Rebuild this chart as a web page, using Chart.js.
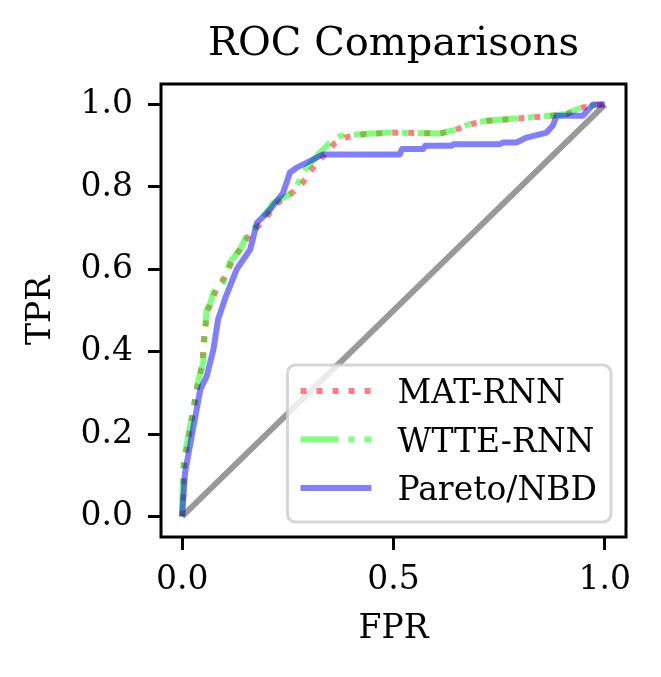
<!DOCTYPE html>
<html>
<head>
<meta charset="utf-8">
<script src="https://cdn.jsdelivr.net/npm/chart.js@4.4.1/dist/chart.umd.min.js"></script>
<style>
  body { margin: 0; background: #fff; }
  #wrap { width: 661px; height: 677px; }
</style>
</head>
<body>
<div id="wrap"><canvas id="roc"></canvas></div>
<script>
// ROC points (FPR, TPR)
const matFpr = [0, 0.002, 0.005, 0.02, 0.037, 0.048, 0.052, 0.06, 0.07, 0.08, 0.1, 0.118, 0.14, 0.16, 0.19, 0.225, 0.265, 0.285, 0.3, 0.33, 0.36, 0.385, 0.43, 0.5, 0.61, 0.645, 0.685, 0.725, 0.795, 0.875, 0.91, 0.948, 0.99, 1];
const matTpr = [0, 0.04, 0.13, 0.22, 0.32, 0.37, 0.44, 0.5, 0.52, 0.55, 0.58, 0.62, 0.655, 0.685, 0.715, 0.76, 0.79, 0.81, 0.835, 0.87, 0.905, 0.92, 0.928, 0.932, 0.93, 0.938, 0.953, 0.961, 0.966, 0.973, 0.977, 0.993, 1.0, 1];

const wtteFpr = [0, 0, 0.003, 0.019, 0.039, 0.05, 0.054, 0.058, 0.066, 0.074, 0.097, 0.113, 0.137, 0.153, 0.184, 0.216, 0.263, 0.279, 0.295, 0.326, 0.35, 0.374, 0.421, 0.492, 0.61, 0.641, 0.681, 0.72, 0.791, 0.87, 0.909, 0.945, 0.988, 1];
const wtteTpr = [0, 0.025, 0.131, 0.219, 0.333, 0.373, 0.446, 0.502, 0.515, 0.544, 0.568, 0.617, 0.648, 0.682, 0.713, 0.762, 0.786, 0.818, 0.847, 0.883, 0.908, 0.924, 0.928, 0.932, 0.93, 0.937, 0.953, 0.961, 0.966, 0.973, 0.977, 0.993, 1.0, 1];

const paretoFpr = [0, 0.007, 0.027, 0.043, 0.058, 0.074, 0.085, 0.102, 0.129, 0.161, 0.177, 0.208, 0.239, 0.255, 0.271, 0.295, 0.333, 0.515, 0.52, 0.57, 0.575, 0.637, 0.642, 0.752, 0.76, 0.791, 0.815, 0.862, 0.877, 0.886, 0.948, 0.972, 1];
const paretoTpr = [0, 0.107, 0.219, 0.308, 0.34, 0.405, 0.478, 0.53, 0.6, 0.648, 0.713, 0.745, 0.786, 0.835, 0.847, 0.859, 0.879, 0.879, 0.892, 0.892, 0.9, 0.9, 0.904, 0.904, 0.908, 0.908, 0.92, 0.932, 0.949, 0.973, 0.973, 1.0, 1];

const chanceFpr = [0, 1];
const chanceTpr = [0, 1];

const xTicks = [0, 0.5, 1.0];
const yTicks = [0, 0.2, 0.4, 0.6, 0.8, 1.0];

const SERIF = "'DejaVu Serif', serif";
const FS = 33;

function toPoints(xs, ys) {
  return xs.map((x, i) => ({ x: x, y: ys[i] }));
}

// box round the plot area, drawn over the curves
const frame = {
  id: 'frame',
  afterDatasetsDraw(chart) {
    const a = chart.chartArea, ctx = chart.ctx;
    ctx.save();
    ctx.strokeStyle = '#000';
    ctx.lineWidth = 3;
    ctx.strokeRect(a.left, a.top, a.right - a.left, a.bottom - a.top);
    ctx.restore();
  }
};

// legend in the lower right corner of the plot
const cornerLegend = {
  id: 'cornerLegend',
  afterDraw(chart) {
    const a = chart.chartArea, ctx = chart.ctx;
    const items = chart.data.datasets.filter(d => d.label);
    ctx.save();
    ctx.font = FS + 'px ' + SERIF;
    let maxW = 0;
    items.forEach(d => { maxW = Math.max(maxW, ctx.measureText(d.label).width); });
    const w = 110 + maxW + 14, h = 157;
    const x0 = a.right - 15 - w, y0 = a.bottom - 15 - h;
    ctx.beginPath();
    ctx.roundRect(x0, y0, w, h, 8);
    ctx.fillStyle = 'rgba(255,255,255,0.8)';
    ctx.fill();
    ctx.strokeStyle = 'rgba(204,204,204,0.8)';
    ctx.lineWidth = 3;
    ctx.stroke();
    items.forEach((d, i) => {
      const cy = y0 + 26 + i * 48.5;
      ctx.beginPath();
      ctx.setLineDash(d.borderDash || []);
      ctx.lineCap = 'butt';
      ctx.strokeStyle = d.borderColor;
      ctx.lineWidth = d.borderWidth;
      ctx.moveTo(x0 + 13, cy);
      ctx.lineTo(x0 + 84, cy);
      ctx.stroke();
      ctx.setLineDash([]);
      ctx.fillStyle = '#000';
      ctx.textBaseline = 'alphabetic';
      ctx.fillText(d.label, x0 + 110, cy + 12);
    });
    ctx.restore();
  }
};

const tickFont = { family: SERIF, size: FS };

new Chart(document.getElementById('roc'), {
  type: 'line',
  data: {
    datasets: [
      {
        label: 'MAT-RNN',
        data: toPoints(matFpr, matTpr),
        borderColor: 'rgba(255,0,0,0.5)',
        borderWidth: 6,
        borderDash: [6, 10],
        order: 3
      },
      {
        label: 'WTTE-RNN',
        data: toPoints(wtteFpr, wtteTpr),
        borderColor: 'rgba(0,255,0,0.5)',
        borderWidth: 6,
        borderDash: [38, 10, 6, 10],
        order: 2
      },
      {
        label: 'Pareto/NBD',
        data: toPoints(paretoFpr, paretoTpr),
        borderColor: 'rgba(0,0,255,0.5)',
        borderWidth: 6,
        order: 1
      },
      {
        data: toPoints(chanceFpr, chanceTpr),
        borderColor: 'rgba(0,0,0,0.4)',
        borderWidth: 6,
        order: 4
      }
    ]
  },
  options: {
    responsive: true,
    maintainAspectRatio: false,
    animation: false,
    devicePixelRatio: 1,
    layout: { padding: { left: 0, right: 35, top: 0, bottom: 0 } },
    elements: {
      point: { radius: 0 },
      line: { tension: 0, fill: false, borderJoinStyle: 'round', borderCapStyle: 'butt' }
    },
    plugins: {
      legend: { display: false },
      tooltip: { enabled: false },
      title: {
        display: true,
        fullSize: false,
        text: 'ROC Comparisons',
        color: '#000',
        font: { family: SERIF, size: 40, weight: 'normal' },
        padding: { top: 21, bottom: 15 }
      }
    },
    scales: {
      x: {
        type: 'linear',
        min: -0.05,
        max: 1.05,
        afterBuildTicks: s => { s.ticks = xTicks.map(v => ({ value: v })); },
        afterFit: s => { s.height = 140; },
        ticks: { callback: v => v.toFixed(1), color: '#000', font: tickFont, padding: 11, maxRotation: 0, autoSkip: false },
        grid: { drawOnChartArea: false, drawTicks: true, tickLength: 13, tickWidth: 3, tickColor: '#000' },
        border: { display: false },
        title: { display: true, text: 'FPR', color: '#000', font: tickFont, padding: { top: 0, bottom: 28 } }
      },
      y: {
        type: 'linear',
        min: -0.05,
        max: 1.05,
        afterBuildTicks: s => { s.ticks = yTicks.map(v => ({ value: v })); },
        afterFit: s => { s.width = 161; },
        ticks: { callback: v => v.toFixed(1), color: '#000', font: tickFont, padding: 15, autoSkip: false },
        grid: { drawOnChartArea: false, drawTicks: true, tickLength: 13, tickWidth: 3, tickColor: '#000' },
        border: { display: false },
        title: { display: true, text: 'TPR', color: '#000', font: tickFont, padding: { top: 22, bottom: 0 } }
      }
    }
  },
  plugins: [frame, cornerLegend]
});
</script>
</body>
</html>
